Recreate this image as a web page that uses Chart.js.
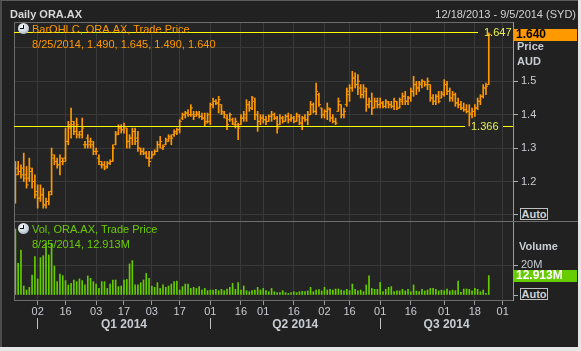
<!DOCTYPE html>
<html>
<head>
<meta charset="utf-8">
<script src="https://cdn.jsdelivr.net/npm/chart.js@4/dist/chart.umd.min.js"></script>
<style>
  html, body { margin: 0; padding: 0; }
  body {
    width: 581px; height: 351px; position: relative; overflow: hidden;
    background: #e6e6e6; font-family: 'Liberation Sans', Arial, sans-serif;
  }
  #frame {
    position: absolute; left: 0; top: 0; width: 576px; height: 346px;
    background: #212121; border-left: 2px solid #4c4c4c; border-top: 1px solid #5c5c5c;
  }
  #chart { position: absolute; left: 0; top: 0; }
  .txt { position: absolute; font-size: 11px; line-height: 13px; white-space: nowrap; }
  .bold { font-weight: bold; }
  #title { left: 10px; top: 8px; color: #d8d8d8; }
  #range { right: 5px; top: 8px; color: #d0d0d0; }
  .leg-price { color: #ff9900; }
  .leg-vol { color: #6ccc00; }
  .axis-name { color: #c8ccd2; }
  .auto {
    position: absolute; left: 520px; width: 26px; height: 10px; border: 1px solid #c0c0c0;
    color: #d0d0d0; font: bold 11px/10px 'Liberation Sans', Arial, sans-serif; text-align: center;
    background: #1e1e1e;
  }
  .icon {
    position: absolute; left: 18px; width: 11px; height: 11px; border-radius: 50%;
    background: radial-gradient(circle at 40% 35%, #f6f8fa 0, #c9d2dc 55%, #7d8a98 100%);
  }
  .icon::before { content: ''; position: absolute; left: 5px; top: 2px; width: 1px; height: 4px; background: #111; }
  .icon::after { content: ''; position: absolute; left: 2px; top: 5px; width: 4px; height: 1px; background: #111; }
</style>
</head>
<body>
<div id="frame"></div>
<canvas id="chart" width="581" height="351"></canvas>

<div id="title" class="txt bold">Daily ORA.AX</div>
<div id="range" class="txt">12/18/2013 - 9/5/2014 (SYD)</div>

<div class="icon" style="top:23px"></div>
<div class="txt leg-price" style="left:32px;top:23px">BarOHLC, ORA.AX, Trade Price</div>
<div id="price-values" class="txt leg-price" style="left:32px;top:38px"></div>
<div class="txt bold axis-name" style="left:517px;top:40px">Price</div>
<div class="txt bold axis-name" style="left:517px;top:55px">AUD</div>
<div class="auto" style="top:208px">Auto</div>

<div class="icon" style="top:223px"></div>
<div class="txt leg-vol" style="left:32px;top:223px">Vol, ORA.AX, Trade Price</div>
<div id="vol-values" class="txt leg-vol" style="left:32px;top:238px"></div>
<div class="txt bold axis-name" style="left:519px;top:240px">Volume</div>
<div class="auto" style="top:288px">Auto</div>

<script>
// ASX trading days shown on the axis (12/18/2013 - 9/5/2014)
const tradingDays = [
  '2013-12-18', '2013-12-19', '2013-12-20', '2013-12-23', '2013-12-24', '2013-12-27', '2013-12-30', '2013-12-31',
  '2014-01-02', '2014-01-03', '2014-01-06', '2014-01-07', '2014-01-08', '2014-01-09', '2014-01-10', '2014-01-13',
  '2014-01-14', '2014-01-15', '2014-01-16', '2014-01-17', '2014-01-20', '2014-01-21', '2014-01-22', '2014-01-23',
  '2014-01-24', '2014-01-28', '2014-01-29', '2014-01-30', '2014-01-31',
  '2014-02-03', '2014-02-04', '2014-02-05', '2014-02-06', '2014-02-07', '2014-02-10', '2014-02-11', '2014-02-12',
  '2014-02-13', '2014-02-14', '2014-02-17', '2014-02-18', '2014-02-19', '2014-02-20', '2014-02-21', '2014-02-24',
  '2014-02-25', '2014-02-26', '2014-02-27', '2014-02-28',
  '2014-03-03', '2014-03-04', '2014-03-05', '2014-03-06', '2014-03-07', '2014-03-10', '2014-03-11', '2014-03-12',
  '2014-03-13', '2014-03-14', '2014-03-17', '2014-03-18', '2014-03-19', '2014-03-20', '2014-03-21', '2014-03-24',
  '2014-03-25', '2014-03-26', '2014-03-27', '2014-03-28', '2014-03-31',
  '2014-04-01', '2014-04-02', '2014-04-03', '2014-04-04', '2014-04-07', '2014-04-08', '2014-04-09', '2014-04-10',
  '2014-04-11', '2014-04-14', '2014-04-15', '2014-04-16', '2014-04-17', '2014-04-22', '2014-04-23', '2014-04-24',
  '2014-04-28', '2014-04-29', '2014-04-30',
  '2014-05-01', '2014-05-02', '2014-05-05', '2014-05-06', '2014-05-07', '2014-05-08', '2014-05-09', '2014-05-12',
  '2014-05-13', '2014-05-14', '2014-05-15', '2014-05-16', '2014-05-19', '2014-05-20', '2014-05-21', '2014-05-22',
  '2014-05-23', '2014-05-26', '2014-05-27', '2014-05-28', '2014-05-29', '2014-05-30',
  '2014-06-02', '2014-06-03', '2014-06-04', '2014-06-05', '2014-06-06', '2014-06-10', '2014-06-11', '2014-06-12',
  '2014-06-13', '2014-06-16', '2014-06-17', '2014-06-18', '2014-06-19', '2014-06-20', '2014-06-23', '2014-06-24',
  '2014-06-25', '2014-06-26', '2014-06-27', '2014-06-30',
  '2014-07-01', '2014-07-02', '2014-07-03', '2014-07-04', '2014-07-07', '2014-07-08', '2014-07-09', '2014-07-10',
  '2014-07-11', '2014-07-14', '2014-07-15', '2014-07-16', '2014-07-17', '2014-07-18', '2014-07-21', '2014-07-22',
  '2014-07-23', '2014-07-24', '2014-07-25', '2014-07-28', '2014-07-29', '2014-07-30', '2014-07-31',
  '2014-08-01', '2014-08-04', '2014-08-05', '2014-08-06', '2014-08-07', '2014-08-08', '2014-08-11', '2014-08-12',
  '2014-08-13', '2014-08-14', '2014-08-15', '2014-08-18', '2014-08-19', '2014-08-20', '2014-08-21', '2014-08-22',
  '2014-08-25', '2014-08-26', '2014-08-27', '2014-08-28', '2014-08-29',
  '2014-09-01', '2014-09-02', '2014-09-03', '2014-09-04', '2014-09-05',
];

// daily OHLC, 12/18/2013 - 8/25/2014
const opens = [
  1.21, 1.24, 1.23, 1.22, 1.22, 1.21, 1.23, 1.20, 1.17, 1.15,
  1.16, 1.13, 1.14, 1.17, 1.27, 1.26, 1.25, 1.26, 1.27, 1.32,
  1.36, 1.37, 1.35, 1.34, 1.35, 1.31, 1.33, 1.31, 1.31, 1.29,
  1.27, 1.25, 1.25, 1.245, 1.255, 1.26, 1.31, 1.345, 1.36, 1.355,
  1.36, 1.32, 1.33, 1.35, 1.33, 1.30, 1.29, 1.285, 1.27, 1.27,
  1.28, 1.29, 1.31, 1.30, 1.31, 1.32, 1.33, 1.34, 1.345, 1.355,
  1.39, 1.40, 1.405, 1.40, 1.40, 1.40, 1.40, 1.395, 1.39, 1.38,
  1.38, 1.43, 1.44, 1.435, 1.43, 1.405, 1.39, 1.385, 1.385, 1.37,
  1.37, 1.37, 1.39, 1.39, 1.43, 1.42, 1.44, 1.40, 1.38, 1.39,
  1.385, 1.38, 1.395, 1.40, 1.39, 1.37, 1.39, 1.38, 1.395, 1.385,
  1.39, 1.38, 1.395, 1.375, 1.39, 1.385, 1.40, 1.43, 1.41, 1.46,
  1.42, 1.40, 1.41, 1.415, 1.39, 1.38, 1.41, 1.43, 1.40, 1.43,
  1.46, 1.48, 1.51, 1.49, 1.48, 1.46, 1.47, 1.43, 1.44, 1.42,
  1.44, 1.43, 1.435, 1.425, 1.435, 1.43, 1.425, 1.44, 1.42, 1.44,
  1.455, 1.44, 1.45, 1.47, 1.49, 1.48, 1.49, 1.50, 1.49, 1.49,
  1.45, 1.44, 1.455, 1.45, 1.46, 1.49, 1.47, 1.45, 1.46, 1.435,
  1.43, 1.42, 1.415, 1.41, 1.40, 1.41, 1.42, 1.44, 1.455, 1.48,
  1.490,
];
const highs = [
  1.26, 1.26, 1.25, 1.285, 1.245, 1.27, 1.24, 1.22, 1.19, 1.19,
  1.18, 1.15, 1.17, 1.30, 1.28, 1.27, 1.28, 1.27, 1.36, 1.38,
  1.42, 1.38, 1.39, 1.35, 1.39, 1.32, 1.34, 1.33, 1.32, 1.30,
  1.28, 1.26, 1.26, 1.26, 1.265, 1.31, 1.35, 1.37, 1.37, 1.375,
  1.36, 1.34, 1.36, 1.36, 1.35, 1.30, 1.30, 1.29, 1.29, 1.29,
  1.295, 1.32, 1.335, 1.31, 1.33, 1.34, 1.34, 1.355, 1.36, 1.385,
  1.405, 1.41, 1.415, 1.43, 1.41, 1.41, 1.41, 1.405, 1.405, 1.405,
  1.435, 1.45, 1.445, 1.455, 1.43, 1.41, 1.40, 1.405, 1.39, 1.39,
  1.375, 1.40, 1.41, 1.445, 1.44, 1.455, 1.45, 1.41, 1.40, 1.40,
  1.395, 1.40, 1.41, 1.405, 1.395, 1.40, 1.395, 1.40, 1.405, 1.40,
  1.395, 1.405, 1.40, 1.395, 1.40, 1.41, 1.44, 1.435, 1.495, 1.465,
  1.42, 1.415, 1.435, 1.42, 1.40, 1.39, 1.45, 1.43, 1.42, 1.48,
  1.49, 1.53, 1.525, 1.52, 1.49, 1.49, 1.48, 1.45, 1.465, 1.45,
  1.45, 1.45, 1.44, 1.445, 1.44, 1.44, 1.45, 1.44, 1.45, 1.465,
  1.47, 1.455, 1.48, 1.515, 1.50, 1.50, 1.505, 1.50, 1.51, 1.49,
  1.46, 1.46, 1.47, 1.47, 1.505, 1.50, 1.48, 1.47, 1.465, 1.45,
  1.44, 1.435, 1.43, 1.43, 1.42, 1.43, 1.45, 1.46, 1.49, 1.495,
  1.645,
];
const lows = [
  1.135, 1.22, 1.21, 1.20, 1.18, 1.20, 1.18, 1.15, 1.12, 1.14,
  1.12, 1.12, 1.13, 1.16, 1.25, 1.24, 1.22, 1.25, 1.26, 1.31,
  1.33, 1.34, 1.33, 1.33, 1.33, 1.30, 1.30, 1.30, 1.28, 1.28,
  1.25, 1.24, 1.235, 1.24, 1.25, 1.26, 1.31, 1.34, 1.345, 1.345,
  1.30, 1.30, 1.31, 1.31, 1.29, 1.28, 1.28, 1.27, 1.245, 1.27,
  1.28, 1.29, 1.30, 1.295, 1.31, 1.32, 1.31, 1.335, 1.34, 1.345,
  1.385, 1.39, 1.395, 1.395, 1.385, 1.395, 1.39, 1.385, 1.365, 1.375,
  1.37, 1.42, 1.43, 1.405, 1.40, 1.39, 1.355, 1.38, 1.37, 1.36,
  1.325, 1.37, 1.38, 1.38, 1.41, 1.415, 1.385, 1.35, 1.37, 1.375,
  1.37, 1.38, 1.38, 1.385, 1.345, 1.37, 1.375, 1.38, 1.375, 1.38,
  1.375, 1.38, 1.37, 1.355, 1.38, 1.37, 1.40, 1.405, 1.40, 1.425,
  1.39, 1.39, 1.385, 1.38, 1.375, 1.37, 1.41, 1.39, 1.39, 1.425,
  1.44, 1.47, 1.48, 1.46, 1.45, 1.45, 1.41, 1.42, 1.40, 1.42,
  1.42, 1.42, 1.42, 1.42, 1.42, 1.42, 1.415, 1.415, 1.42, 1.43,
  1.43, 1.43, 1.44, 1.455, 1.46, 1.47, 1.48, 1.485, 1.475, 1.44,
  1.43, 1.43, 1.435, 1.45, 1.455, 1.46, 1.44, 1.44, 1.425, 1.42,
  1.415, 1.41, 1.405, 1.366, 1.39, 1.395, 1.415, 1.43, 1.45, 1.46,
  1.490,
];
const closes = [
  1.22, 1.23, 1.24, 1.21, 1.19, 1.24, 1.20, 1.16, 1.15, 1.16,
  1.13, 1.14, 1.16, 1.28, 1.26, 1.25, 1.27, 1.26, 1.32, 1.37,
  1.38, 1.35, 1.37, 1.34, 1.36, 1.31, 1.32, 1.32, 1.29, 1.29,
  1.26, 1.25, 1.24, 1.255, 1.26, 1.30, 1.34, 1.36, 1.355, 1.365,
  1.32, 1.33, 1.35, 1.32, 1.30, 1.29, 1.285, 1.27, 1.26, 1.28,
  1.29, 1.31, 1.32, 1.305, 1.325, 1.335, 1.33, 1.35, 1.355, 1.38,
  1.40, 1.405, 1.40, 1.42, 1.395, 1.405, 1.395, 1.39, 1.375, 1.40,
  1.43, 1.44, 1.435, 1.445, 1.41, 1.40, 1.37, 1.40, 1.375, 1.38,
  1.36, 1.39, 1.40, 1.43, 1.42, 1.45, 1.40, 1.38, 1.39, 1.385,
  1.38, 1.395, 1.40, 1.39, 1.36, 1.39, 1.38, 1.395, 1.385, 1.39,
  1.38, 1.40, 1.375, 1.39, 1.385, 1.40, 1.43, 1.41, 1.47, 1.43,
  1.40, 1.41, 1.42, 1.39, 1.38, 1.375, 1.44, 1.40, 1.41, 1.47,
  1.48, 1.51, 1.49, 1.50, 1.46, 1.48, 1.43, 1.44, 1.42, 1.44,
  1.43, 1.435, 1.425, 1.44, 1.43, 1.425, 1.44, 1.42, 1.445, 1.455,
  1.44, 1.45, 1.47, 1.49, 1.48, 1.495, 1.50, 1.49, 1.50, 1.45,
  1.44, 1.455, 1.44, 1.465, 1.49, 1.47, 1.45, 1.46, 1.435, 1.43,
  1.42, 1.415, 1.41, 1.405, 1.41, 1.42, 1.44, 1.455, 1.48, 1.485,
  1.640,
];

// daily volume, millions of shares
const volumes = [
  44, 21.1, 30, 6, 3.3, 5.1, 13.3, 25.6, 10.7, 24.9,
  26.2, 34.4, 26.7, 34.4, 19.3, 8.9, 14, 12.9, 9.6, 6.7,
  7.8, 10, 8.9, 10.7, 9.6, 6.7, 12.7, 11.1, 8.9, 7.3,
  4.4, 8.9, 8.9, 4.4, 7.3, 10, 10, 5.6, 6, 10,
  10.4, 20.7, 22.9, 6.7, 6.7, 8.2, 10, 14.4, 11.1, 6,
  5.1, 8.2, 4.4, 6.7, 5.1, 6, 7.3, 8.9, 9.3, 3.3,
  5.6, 7.3, 7.3, 4.4, 5.1, 4.4, 5.6, 3.3, 4.4, 2.9,
  3.3, 3.3, 3.8, 2.9, 3.8, 2.9, 4, 5.1, 7.8, 3.8,
  8.2, 3.3, 6, 2.9, 2.2, 2.9, 3.3, 5.1, 3.3, 4.4,
  2.9, 2.2, 4.4, 2.2, 1.6, 1.6, 2.9, 1.6, 1.1, 1.6,
  2.2, 1.6, 2.2, 2.4, 2.2, 2.7, 5.1, 2.2, 3.3, 3.6,
  2.7, 5.1, 3.3, 3.8, 3.3, 4, 4, 3.3, 2.7, 3.8,
  2.9, 7.3, 3.8, 2.7, 3.3, 2.2, 6.7, 12.7, 4.4, 3.8,
  3.8, 8.4, 2.2, 3.8, 5.1, 5.6, 2.2, 2.7, 2.7, 3.8,
  2.7, 3.8, 2.2, 6.7, 2.7, 2.2, 3.8, 2.7, 3.3, 4.4,
  4.4, 3.8, 2.7, 3.3, 2.9, 4, 2.7, 3.3, 2.9, 9.3,
  1.8, 4, 4, 3.8, 2.7, 4.4, 3.8, 2.2, 3.3, 1.1,
  12.913,
];

// horizontal reference levels drawn across the price panel
const levelValues = [1.647, 1.366];

// x axis ticks
const tickDates = [
  '2014-01-02', '2014-01-16', '2014-02-03', '2014-02-17', '2014-03-03', '2014-03-17',
  '2014-04-01', '2014-04-16', '2014-05-01', '2014-05-16', '2014-06-02', '2014-06-16',
  '2014-07-01', '2014-07-16', '2014-08-01', '2014-08-18', '2014-09-01',
];
const quarterLabels = ['Q1 2014', 'Q2 2014', 'Q3 2014'];
const quarterStarts = ['2014-01-02', '2014-04-01', '2014-07-01'];

// axis ticks
const priceTicks = [1.1, 1.2, 1.3, 1.4, 1.5, 1.6];
const priceLabelled = [1.2, 1.3, 1.4, 1.5];
const volTicks = [0, 20, 40];
const volLabelled = [20];

const FONT = "'Liberation Sans', Arial, sans-serif";
const ORANGE = '#ff9900';
const GREEN = '#66cc00';
const GRID = '#393939';
const last = closes.length - 1;

const X_MIN = -0.5;
const X_MAX = 178.7;

const tickIdx = tickDates.map((d) => tradingDays.indexOf(d));
const tickLabels = tickDates.map((d) => d.slice(8));

const quarterIdx = quarterStarts.map((d) => tradingDays.indexOf(d));
const quarterTicks = [];
quarterIdx.forEach((start, q) => {
  const end = q + 1 < quarterIdx.length ? quarterIdx[q + 1] : X_MAX;
  quarterTicks.push({ value: start, label: '', mark: true });
  quarterTicks.push({ value: (start + end) / 2, label: quarterLabels[q], mark: false });
});

function usDate(iso) {
  const [y, m, d] = iso.split('-');
  return `${+m}/${+d}/${y}`;
}

document.getElementById('price-values').textContent = [
  usDate(tradingDays[last]),
  opens[last].toFixed(3),
  highs[last].toFixed(3),
  lows[last].toFixed(3),
  closes[last].toFixed(3),
].join(', ');
document.getElementById('vol-values').textContent =
  `${usDate(tradingDays[last])}, ${volumes[last].toFixed(3)}M`;

// frame, panel separator, level lines and last-value boxes
const panelDecor = {
  id: 'panelDecor',
  beforeDraw(chart) {
    const { ctx, chartArea: a } = chart;
    ctx.save();
    ctx.fillStyle = '#242424';
    ctx.fillRect(a.left, a.top, a.right - a.left, a.bottom - a.top);
    ctx.restore();
  },
  afterDatasetsDraw(chart) {
    const { ctx, chartArea: a, scales } = chart;
    const yP = scales.y;
    const yV = scales.yVol;
    ctx.save();
    ctx.lineWidth = 1;

    // panel frame
    ctx.strokeStyle = '#6c6c6c';
    ctx.beginPath();
    ctx.moveTo(a.left + 0.5, a.bottom);
    ctx.lineTo(a.left + 0.5, a.top + 0.5);
    ctx.lineTo(a.right, a.top + 0.5);
    ctx.moveTo(a.left, Math.round(yV.top) + 0.5);
    ctx.lineTo(chart.width - 3, Math.round(yV.top) + 0.5);
    ctx.stroke();

    // level lines with their labels
    ctx.font = `11px ${FONT}`;
    ctx.textBaseline = 'middle';
    levelValues.forEach((lvl, k) => {
      const py = Math.round(yP.getPixelForValue(lvl)) + 0.5;
      const gapFrom = k === 0 ? a.right - 35 : a.right - 48;
      const gapTo = k === 0 ? a.right : a.right - 10;
      const labelX = k === 0 ? a.right - 29 : a.right - 42;
      ctx.strokeStyle = '#ffff00';
      ctx.beginPath();
      ctx.moveTo(a.left, py);
      ctx.lineTo(gapFrom, py);
      if (gapTo < a.right) {
        ctx.moveTo(gapTo, py);
        ctx.lineTo(a.right, py);
      }
      ctx.stroke();
      ctx.fillStyle = '#e6f052';
      ctx.textAlign = 'left';
      ctx.fillText(lvl.toFixed(3), labelX, py);
    });

    // last value boxes on the right axis
    const boxes = [
      { scale: yP, value: closes[last], text: closes[last].toFixed(3), bg: ORANGE, fg: '#000' },
      { scale: yV, value: volumes[last], text: `${volumes[last].toFixed(3)}M`, bg: GREEN, fg: '#fff' },
    ];
    ctx.font = `bold 12px ${FONT}`;
    boxes.forEach((b) => {
      const py = b.scale.getPixelForValue(b.value);
      ctx.fillStyle = b.bg;
      ctx.fillRect(a.right + 1, Math.round(py - 6), 63, 12);
      ctx.fillStyle = b.fg;
      ctx.fillText(b.text, a.right + 3, py + 0.5);
    });
    ctx.restore();
  },
};

const tickMark = {
  type: 'line',
  yAxisID: 'y',
  showLine: false,
  pointStyle: 'line',
  pointRadius: 1,
  pointBorderWidth: 1,
  pointBorderColor: ORANGE,
  borderColor: ORANGE,
};

new Chart(document.getElementById('chart'), {
  type: 'bar',
  data: {
    datasets: [
      {
        label: 'High-Low',
        data: lows.map((l, i) => ({ x: i, y: [l, highs[i]] })),
        yAxisID: 'y',
        backgroundColor: ORANGE,
        barThickness: 1,
        grouped: false,
      },
      { ...tickMark, label: 'Open', data: opens.map((o, i) => ({ x: i - 0.38, y: o })) },
      { ...tickMark, label: 'Close', data: closes.map((c, i) => ({ x: i + 0.38, y: c })) },
      {
        label: 'Volume',
        data: volumes.map((v, i) => ({ x: i, y: v })),
        yAxisID: 'yVol',
        backgroundColor: GREEN,
        barThickness: 1,
        grouped: false,
      },
    ],
  },
  options: {
    responsive: false,
    animation: false,
    events: [],
    layout: { padding: { left: 14, top: 22, right: 0, bottom: 20 } },
    plugins: {
      legend: { display: false },
      tooltip: { enabled: false },
    },
    scales: {
      x: {
        type: 'linear',
        min: X_MIN,
        max: X_MAX,
        offset: false,
        afterBuildTicks: (s) => { s.ticks = tickIdx.map((v) => ({ value: v })); },
        afterFit: (s) => { s.height = 18; },
        grid: { color: GRID, tickColor: '#9a9a9a', tickLength: 5, offset: false },
        border: { color: '#6c6c6c' },
        ticks: {
          color: '#c8ccd2',
          font: { family: FONT, size: 11 },
          padding: 0,
          maxRotation: 0,
          autoSkip: false,
          callback: (v, i) => tickLabels[i],
        },
      },
      xq: {
        type: 'linear',
        position: 'bottom',
        min: X_MIN,
        max: X_MAX,
        offset: false,
        afterBuildTicks: (s) => { s.ticks = quarterTicks.map((t) => ({ value: t.value })); },
        afterFit: (s) => { s.height = 13; },
        grid: {
          offset: false,
          drawOnChartArea: false,
          tickLength: 11,
          tickColor: (c) => (quarterTicks[c.index] && quarterTicks[c.index].mark ? '#c0c0c0' : 'rgba(0,0,0,0)'),
        },
        border: { display: false },
        ticks: {
          color: '#c8ccd2',
          font: { family: FONT, size: 12, weight: 'bold' },
          padding: -12,
          maxRotation: 0,
          autoSkip: false,
          callback: (v, i) => quarterTicks[i].label,
        },
      },
      y: {
        type: 'linear',
        position: 'right',
        stack: 'panels',
        stackWeight: 199,
        min: 1.0817,
        max: 1.6775,
        afterBuildTicks: (s) => { s.ticks = priceTicks.map((v) => ({ value: v })); },
        afterFit: (s) => { s.width = 68; },
        grid: {
          color: GRID,
          tickLength: 5,
          tickColor: (c) => (c.tick && c.tick.value === 1.6 ? 'rgba(0,0,0,0)' : '#b0b0b0'),
        },
        border: { color: '#9a9a9a' },
        ticks: {
          color: '#c8ccd2',
          font: { family: FONT, size: 11 },
          padding: 3,
          callback: (v) => (priceLabelled.includes(v) ? v.toFixed(1) : ''),
        },
      },
      yVol: {
        type: 'linear',
        position: 'right',
        stack: 'panels',
        stackWeight: 79,
        min: -3.33,
        max: 49.33,
        afterBuildTicks: (s) => { s.ticks = volTicks.map((v) => ({ value: v })); },
        afterFit: (s) => { s.width = 68; },
        grid: {
          color: (c) => (c.tick && c.tick.value === 20 ? GRID : 'rgba(0,0,0,0)'),
          tickLength: 5,
          tickColor: (c) => (c.tick && c.tick.value === 40 ? 'rgba(0,0,0,0)' : '#b0b0b0'),
        },
        border: { color: '#9a9a9a' },
        ticks: {
          color: '#c8ccd2',
          font: { family: FONT, size: 11 },
          padding: 3,
          callback: (v) => (volLabelled.includes(v) ? `${v}M` : ''),
        },
      },
    },
  },
  plugins: [panelDecor],
});
</script>
</body>
</html>
